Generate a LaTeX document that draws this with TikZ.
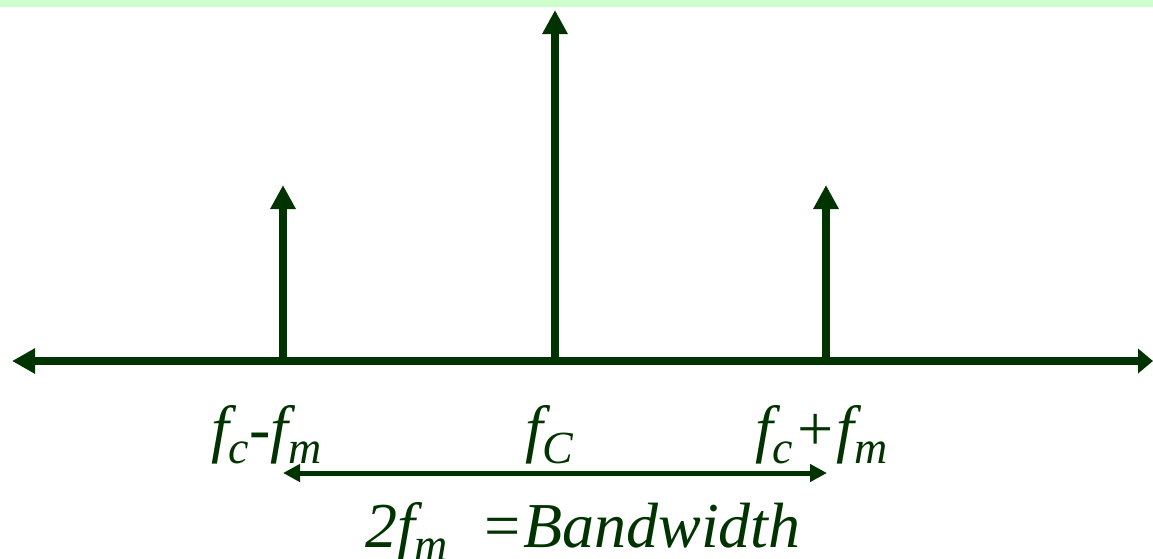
\documentclass[tikz,border=0pt]{standalone}
\usepackage{fontspec}
\setmainfont{Liberation Serif}
\usetikzlibrary{arrows.meta}
\definecolor{dg}{HTML}{003300}
\definecolor{bandgreen}{HTML}{CCFFCC}
\newcommand\lowsub[1]{\raisebox{-13pt}{\fontsize{46}{46}\selectfont #1}}
\begin{document}
\begin{tikzpicture}[x=1pt,y=-1pt,
  spike/.style={draw=dg, line width=7.5pt, -{Triangle[length=24pt,width=24pt]}},
  axisline/.style={draw=dg, line width=7.5pt, {Triangle[length=23pt,width=24pt]}-{Triangle[length=15pt,width=24pt]}},
  bwline/.style={draw=dg, line width=5pt, {Triangle[length=17pt,width=17pt]}-{Triangle[length=17pt,width=17pt]}},
  lbl/.style={text=dg, font=\fontsize{64}{64}\selectfont\itshape, inner sep=0pt, anchor=base west}]
\useasboundingbox (0,0) rectangle (1153,558);
\fill[bandgreen] (0,0) rectangle (1153,7);
% axis
\coordinate (axl) at (12,361);
\coordinate (axr) at (1153,361);
\draw[axisline] (axl) -- (axr);
% spikes
\coordinate (lb) at (283,361);
\coordinate (lt) at (283,185);
\coordinate (cb) at (555,361);
\coordinate (ct) at (555,10);
\coordinate (rb) at (826,361);
\coordinate (rt) at (826,185);
\draw[spike] (lb) -- (lt);
\draw[spike] (cb) -- (ct);
\draw[spike] (rb) -- (rt);
% labels
\node[lbl] (l1) at (211,450) {f\lowsub{c}-f\lowsub{m}};
\node[lbl] (l2) at (525,450) {f\lowsub{C}};
\node[lbl] (l3) at (755,450) {f\lowsub{c}+f\lowsub{m}};
% bandwidth
\coordinate (bwl) at (283,473);
\coordinate (bwr) at (827,473);
\draw[bwline] (bwl) -- (bwr);
\node[lbl] (bw) at (365,547) {2f\lowsub{m}\ \ =Bandwidth};
\end{tikzpicture}
\end{document}
